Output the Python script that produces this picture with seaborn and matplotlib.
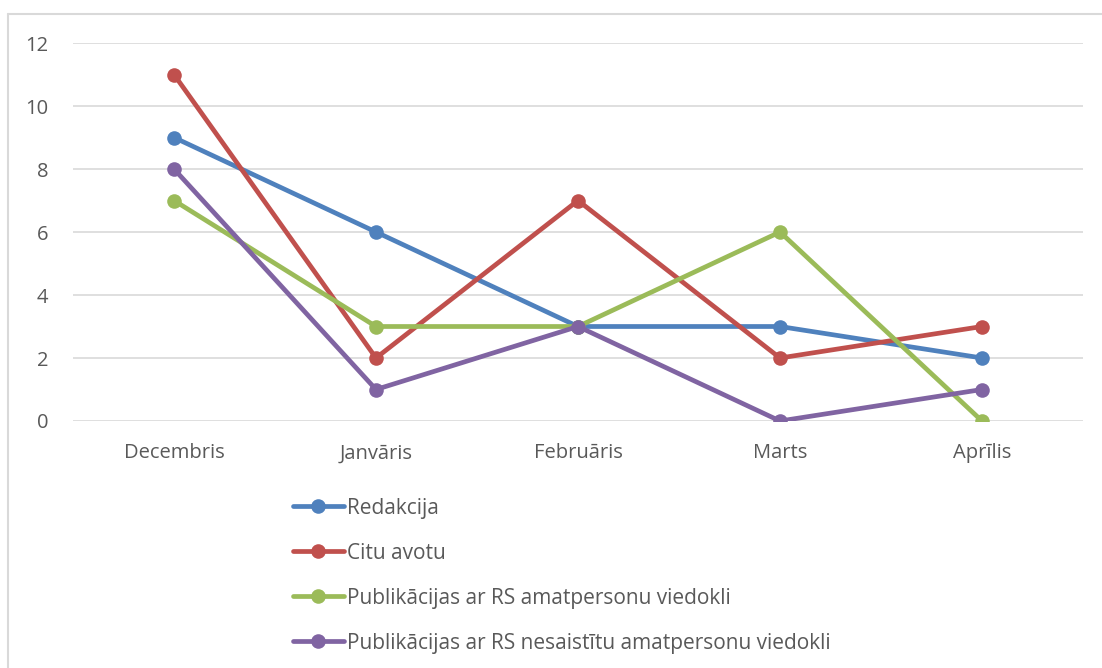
import matplotlib

matplotlib.use("Agg")
import matplotlib.pyplot as plt
import pandas as pd
import seaborn as sns
from matplotlib.lines import Line2D

months = ["Decembris", "Janvāris", "Februāris", "Marts", "Aprīlis"]
redakcija = [9, 6, 3, 3, 2]
citu_avotu = [11, 2, 7, 2, 3]
rs_amatpersonu = [7, 3, 3, 6, 0]
rs_nesaistitu = [8, 1, 3, 0, 1]

series_names = [
    "Redakcija",
    "Citu avotu",
    "Publikācijas ar RS amatpersonu viedokli",
    "Publikācijas ar RS nesaistītu amatpersonu viedokli",
]
colors = ["#4F81BD", "#C0504D", "#9BBB59", "#8064A2"]

rows = []
for name, values in zip(series_names, [redakcija, citu_avotu, rs_amatpersonu, rs_nesaistitu]):
    for month, value in zip(months, values):
        rows.append({"month": month, "value": value, "series": name})
df = pd.DataFrame(rows)

sns.set_theme(style="white")
plt.rcParams["font.family"] = ["Open Sans", "DejaVu Sans"]

W, H = 1102, 668
fig = plt.figure(figsize=(W / 100, H / 100), dpi=100)
ax = fig.add_axes([73 / W, 1 - 421 / H, (1083 - 73) / W, (421 - 43) / H])

sns.lineplot(
    data=df, x="month", y="value", hue="series", palette=colors,
    marker="o", markersize=10.5, markeredgewidth=0, linewidth=3.4,
    sort=False, legend=False, ax=ax,
)

ax.set_xlim(-0.5, 4.5)
ax.set_ylim(0, 12)
ax.set_yticks(range(0, 13, 2))
ax.yaxis.grid(True, color="#D9D9D9", linewidth=1.2)
ax.set_axisbelow(True)
for side in ax.spines.values():
    side.set_visible(False)
ax.set_xlabel("")
ax.set_ylabel("")
ax.tick_params(axis="both", length=0, labelsize=14.5, labelcolor="#595959")
ax.tick_params(axis="y", pad=18)
ax.tick_params(axis="x", pad=16)

handles = [
    Line2D([], [], color=c, linewidth=3.4, marker="o", markersize=10.5, markeredgewidth=0)
    for c in colors
]
fig.legend(
    handles, series_names, loc="upper left", bbox_to_anchor=(274 / W, 1 - 479 / H),
    frameon=False, fontsize=15, labelcolor="#595959", handlelength=2.45,
    handletextpad=0.15, labelspacing=1.15,
)

# chart area frame (top and left edges only visible)
fig.add_artist(Line2D([8 / W, 1], [1 - 14 / H, 1 - 14 / H], transform=fig.transFigure, color="#D9D9D9", linewidth=1.5))
fig.add_artist(Line2D([8 / W, 8 / W], [0, 1 - 14 / H], transform=fig.transFigure, color="#D9D9D9", linewidth=1.5))

fig.savefig("out.png", dpi=100)
